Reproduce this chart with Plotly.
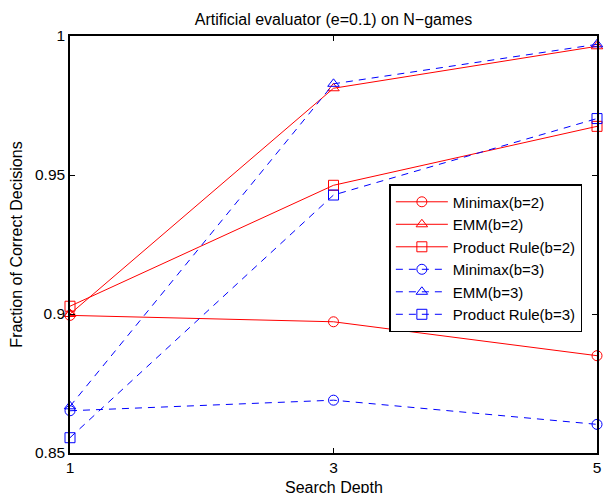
import plotly.graph_objects as go

depth = [1, 3, 5]
minimax_b2 = [0.8995, 0.8972, 0.8850]
emm_b2 = [0.9000, 0.9812, 0.9963]
product_b2 = [0.9028, 0.9463, 0.9675]
minimax_b3 = [0.8652, 0.8690, 0.8603]
emm_b3 = [0.8668, 0.9828, 0.9970]
product_b3 = [0.8555, 0.9428, 0.9703]

x_ticks = [1, 3, 5]
y_ticks = [0.85, 0.9, 0.95, 1.0]
y_tick_labels = ["0.85", "0.9", "0.95", "1"]

series = [
    ("Minimax(b=2)", minimax_b2, "red", "solid", "circle-open"),
    ("EMM(b=2)", emm_b2, "red", "solid", "triangle-up-open"),
    ("Product Rule(b=2)", product_b2, "red", "solid", "square-open"),
    ("Minimax(b=3)", minimax_b3, "blue", "7px,6px", "circle-open"),
    ("EMM(b=3)", emm_b3, "blue", "7px,6px", "triangle-up-open"),
    ("Product Rule(b=3)", product_b3, "blue", "7px,6px", "square-open"),
]

FONT = "Liberation Sans, Arial, sans-serif"

fig = go.Figure()
for name, vals, color, dash, sym in series:
    fig.add_trace(go.Scatter(
        x=depth, y=vals, name=name, mode="lines+markers",
        line=dict(color=color, width=1, dash=dash),
        marker=dict(symbol=sym, size=10, color=color, line=dict(width=1, color=color)),
        cliponaxis=False,
    ))

axis_common = dict(
    showline=True, linecolor="black", linewidth=1.5, mirror="ticks",
    ticks="inside", ticklen=5, tickcolor="black", showgrid=False, zeroline=False,
    tickfont=dict(family=FONT, size=15.5, color="black"),
)

fig.update_layout(
    width=607, height=493,
    margin=dict(l=70, r=8, t=36, b=40),
    paper_bgcolor="white", plot_bgcolor="white",
    font=dict(family=FONT, color="black"),
    title=dict(text="Artificial evaluator (e=0.1) on N\u2212games", x=0.5, xanchor="center",
               xref="paper", y=0.960, yanchor="middle", font=dict(size=16, color="black")),
    xaxis=dict(range=[1, 5], tickvals=x_ticks, ticktext=[str(v) for v in x_ticks],
               automargin=False, **axis_common),
    yaxis=dict(range=[0.85, 1.0], tickvals=y_ticks, ticktext=y_tick_labels,
               title=dict(text="Fraction of Correct Decisions", font=dict(size=16), standoff=8),
               **axis_common),
    legend=dict(x=0.606, y=0.645, xanchor="left", yanchor="top",
                bgcolor="white", bordercolor="black", borderwidth=1.5,
                font=dict(size=15, color="black"), itemwidth=52, tracegroupgap=0),
    annotations=[dict(text="Search Depth", x=0.5, xref="paper", y=0, yref="paper",
                      xanchor="center", yanchor="top", yshift=-24, showarrow=False,
                      font=dict(size=16, color="black", family=FONT))],
)

fig.write_html("out.html", config={"displayModeBar": False},
               post_script="document.body.style.margin='0';document.body.style.overflow='hidden';")
